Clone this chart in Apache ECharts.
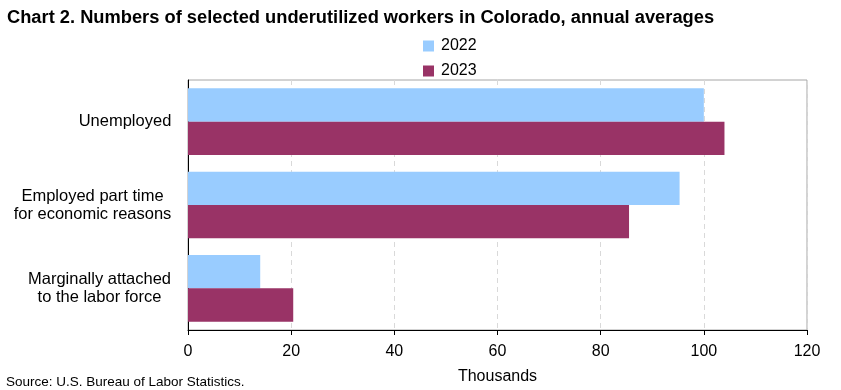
<!DOCTYPE html>
<html>
<head>
<meta charset="utf-8">
<script src="https://cdn.jsdelivr.net/npm/echarts@6/dist/echarts.min.js"></script>
<style>html,body{margin:0;padding:0;background:#fff;}#c{width:841px;height:390px;}</style>
</head>
<body>
<div id="c"></div>
<script>
var categories = ['Unemployed', 'Employed part time\nfor economic reasons', 'Marginally attached\nto the labor force'];
var values2022 = [100.0, 95.3, 14.0];
var values2023 = [104.0, 85.5, 20.4];
var seriesNames = ['2022', '2023'];
var xTicks = [0, 20, 40, 60, 80, 100, 120];

var FONT = 'Liberation Sans, Arial, sans-serif';
var LABEL_SIZE = 16.5;

// measure each category block width so its lines can be centred within a right-aligned block
var ctx = document.createElement('canvas').getContext('2d');
ctx.font = LABEL_SIZE + 'px ' + FONT;
var rich = {};
categories.forEach(function (c, i) {
  var w = 0;
  c.split('\n').forEach(function (line) { w = Math.max(w, ctx.measureText(line).width); });
  rich['r' + i] = {width: Math.ceil(w) + 1, align: 'center', fontFamily: FONT, fontSize: LABEL_SIZE, color: '#000', lineHeight: 18};
});

var chart = echarts.init(document.getElementById('c'), null, {renderer: 'canvas'});
chart.setOption({
  animation: false,
  textStyle: {fontFamily: FONT},
  title: {
    text: 'Chart 2. Numbers of selected underutilized workers in Colorado, annual averages',
    left: 2, top: 4,
    textStyle: {fontFamily: FONT, fontSize: 18.3, fontWeight: 'bold', color: '#000'}
  },
  legend: {
    orient: 'vertical', left: 418, top: 33,
    itemWidth: 11, itemHeight: 11, itemGap: 9,
    icon: 'rect',
    textStyle: {fontFamily: FONT, fontSize: 16, color: '#000', padding: [0,0,0,2]},
    data: seriesNames
  },
  grid: {left: 188, right: 34, top: 80, bottom: 60, show: true, borderColor: '#a6a6a6', borderWidth: 1},
  xAxis: {
    type: 'value', min: xTicks[0], max: xTicks[xTicks.length - 1], interval: 20,
    name: 'Thousands', nameLocation: 'middle', nameGap: 39,
    nameTextStyle: {fontFamily: FONT, fontSize: 16, color: '#000'},
    axisLine: {show: true, lineStyle: {color: '#000', width: 1}},
    axisTick: {show: true, length: 5, lineStyle: {color: '#000'}},
    axisLabel: {fontFamily: FONT, fontSize: 16, color: '#000', margin: 14},
    splitLine: {show: true, lineStyle: {color: '#d9d9d9', type: [5, 4]}}
  },
  yAxis: {
    type: 'category', inverse: true, data: categories,
    axisLine: {show: true, lineStyle: {color: '#000', width: 1}},
    axisTick: {show: false},
    axisLabel: {
      fontFamily: FONT, fontSize: LABEL_SIZE, color: '#000', align: 'right', margin: 16, lineHeight: 18,
      rich: rich,
      formatter: function (v, i) {
        return v.split('\n').map(function (line) { return '{r' + i + '|' + line + '}'; }).join('\n');
      }
    }
  },
  series: [
    {name: seriesNames[0], type: 'bar', data: values2022, itemStyle: {color: '#99ccff'}, barGap: '0%', barCategoryGap: '20%'},
    {name: seriesNames[1], type: 'bar', data: values2023, itemStyle: {color: '#993366'}, barGap: '0%', barCategoryGap: '20%'}
  ],
  graphic: [{
    type: 'text', left: 6, top: 375,
    style: {text: 'Source: U.S. Bureau of Labor Statistics.', fontFamily: FONT, fontSize: 13.5, fill: '#000'}
  }]
});
</script>
</body>
</html>
